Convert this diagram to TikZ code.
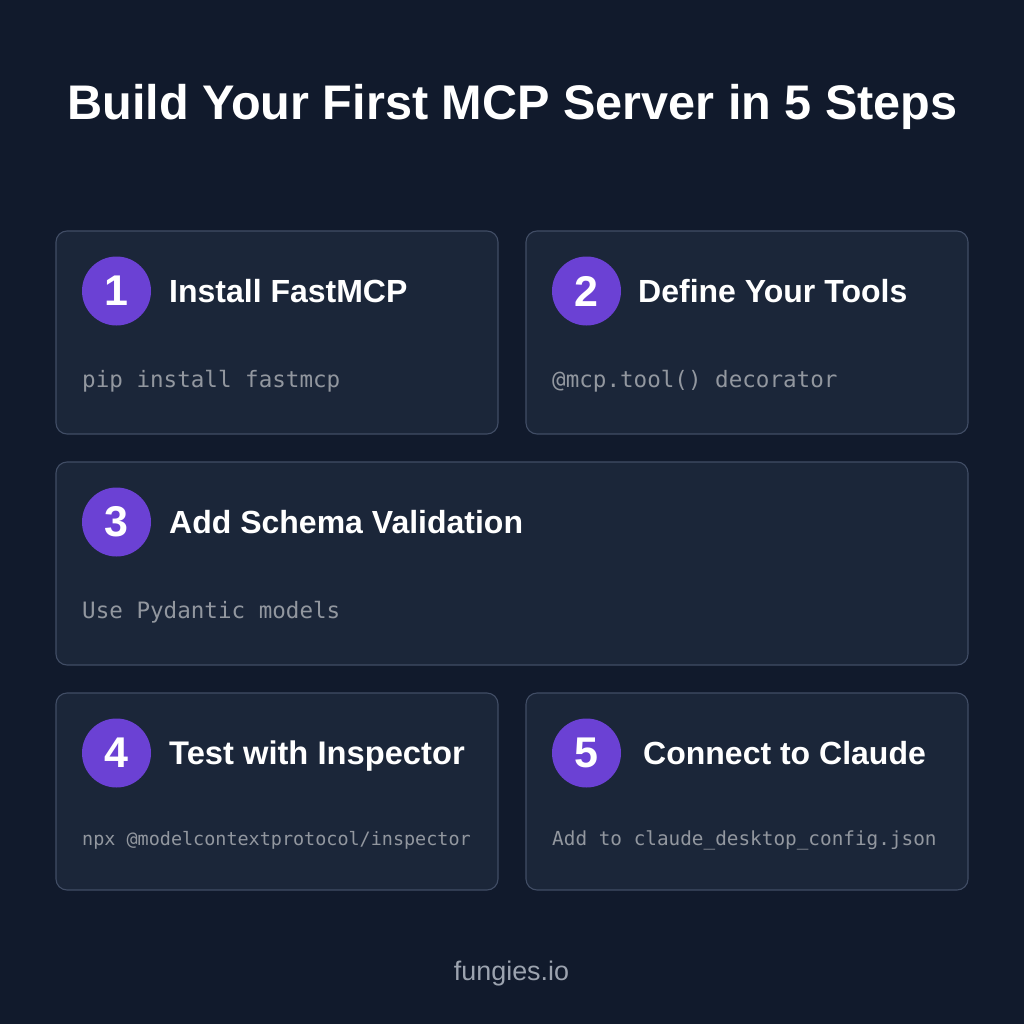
\documentclass[tikz,border=0pt]{standalone}
\usepackage{fontspec}
\setmainfont{Liberation Sans}
\setmonofont{DejaVu Sans Mono}
\definecolor{bgc}{HTML}{111A2C}
\definecolor{cardc}{HTML}{1B2639}
\definecolor{cardl}{HTML}{414D65}
\definecolor{badge}{HTML}{6B41D4}
\definecolor{codec}{HTML}{92979F}
\definecolor{footc}{HTML}{9CA3AF}
\tikzset{
 px/.style={x=1pt,y=-1pt},
 card/.style={draw=cardl,fill=cardc,line width=1.1pt,rounded corners=11pt},
 numbadge/.style={circle,fill=badge,minimum size=69pt,inner sep=0pt,text=white,font=\fontsize{43}{43}\selectfont\bfseries},
 headtxt/.style={anchor=base west,inner sep=0pt,text=white,font=\fontsize{32}{32}\selectfont\bfseries},
 codetxt/.style={anchor=base west,inner sep=0pt,text=codec,font=\fontsize{22.56}{23}\selectfont\ttfamily},
}
\begin{document}
\begin{tikzpicture}[px]
\useasboundingbox (0,0) rectangle (1024,1024);
\fill[bgc] (0,0) rectangle (1024,1024);
\node[anchor=base,inner sep=0pt,text=white,font=\fontsize{48.6}{49}\selectfont\bfseries] (title) at (512.5,120) {Build Your First MCP Server in 5 Steps};
\draw[card] (56,231) rectangle (498,434);
\draw[card] (526,231) rectangle (968,434);
\draw[card] (56,462) rectangle (968,665);
\draw[card] (56,693) rectangle (498,890);
\draw[card] (526,693) rectangle (968,890);
\node[numbadge] (b1) at (116.5,291) {1};
\node[numbadge] (b2) at (586.5,291) {2};
\node[numbadge] (b3) at (116.5,522) {3};
\node[numbadge] (b4) at (116.5,753) {4};
\node[numbadge] (b5) at (586.5,753) {5};
\node[headtxt] (h1) at (169,302) {Install FastMCP};
\node[headtxt] (h2) at (638,302) {Define Your Tools};
\node[headtxt] (h3) at (169,533) {Add Schema Validation};
\node[headtxt,font=\fontsize{32.7}{33}\selectfont\bfseries] (h4) at (169,764) {Test with Inspector};
\node[headtxt] (h5) at (643,764) {Connect to Claude};
\node[codetxt] (c1) at (82,387) {pip install fastmcp};
\node[codetxt] (c2) at (552,387) {@mcp.tool() decorator};
\node[codetxt] (c3) at (82,618) {Use Pydantic models};
\node[codetxt,font=\fontsize{18.44}{20}\selectfont\ttfamily] (c4) at (82,845) {npx @modelcontextprotocol/inspector};
\node[codetxt,font=\fontsize{19.35}{20}\selectfont\ttfamily] (c5) at (552,845) {Add to claude\_desktop\_config.json};
\node[anchor=base,inner sep=0pt,text=footc,font=\fontsize{26.9}{27}\selectfont] (f) at (511.5,980) {fungies.io};
\end{tikzpicture}
\end{document}
